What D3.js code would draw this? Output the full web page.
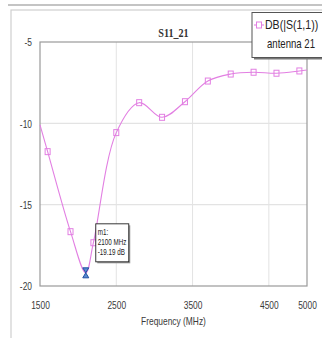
<!DOCTYPE html>
<html>
<head>
<meta charset="utf-8">
<script src="https://cdn.jsdelivr.net/npm/d3@7/dist/d3.min.js"></script>
<style>
  html, body { margin: 0; padding: 0; background: #fff; }
  svg { display: block; }
  text { font-family: "Liberation Sans", Arial, sans-serif; }
</style>
</head>
<body>
<svg id="chart" width="322" height="338"></svg>
<script>
// Return loss of antenna 21, sampled in MHz
const freqs = [1500, 1600, 1900, 2100, 2200, 2500, 2800, 3100, 3400, 3700, 4000, 4300, 4600, 4900, 5000];
const s11db = [-10.1, -11.74, -16.66, -19.19, -17.34, -10.57, -8.73, -9.63, -8.67, -7.40, -6.97, -6.86, -6.92, -6.78, -6.72];
// Frequencies that carry a square symbol on the trace
const symbolFreqs = [1600, 1900, 2200, 2500, 2800, 3100, 3400, 3700, 4000, 4300, 4600, 4900];
const xTicks = [1500, 2500, 3500, 4500, 5000];
const yTicks = [-5, -10, -15, -20];
const xGrid = [2500, 3500, 4500];
const yGrid = [-10, -15];
const marker = { name: "m1", freq: 2100, db: -19.19 };
const title = "S11_21";
const legendLines = ["DB(|S(1,1))", "antenna 21"];
const xLabel = "Frequency (MHz)";

const traceColor = "#e27fe2";
const svg = d3.select("#chart");

const plot = { left: 40, top: 42, right: 307, bottom: 286 };
const x = d3.scaleLinear().domain([1500, 5000]).range([plot.left, plot.right]);
const y = d3.scaleLinear().domain([-20, -5]).range([plot.bottom, plot.top]);

// outer frame of the graph window
svg.append("line").attr("x1", 8).attr("x2", 322).attr("y1", 5).attr("y2", 5)
  .attr("stroke", "#c4c4c4").attr("stroke-width", 2);
svg.append("rect").attr("x", 11).attr("y", 10).attr("width", 330).attr("height", 340)
  .attr("fill", "none").attr("stroke", "#cfcfcf").attr("stroke-width", 1.2);

// grid
svg.append("g").selectAll("line").data(xGrid).join("line")
  .attr("x1", d => x(d)).attr("x2", d => x(d))
  .attr("y1", plot.top).attr("y2", plot.bottom)
  .attr("stroke", "#e3e3e3").attr("stroke-width", 1);
svg.append("g").selectAll("line").data(yGrid).join("line")
  .attr("x1", plot.left).attr("x2", plot.right)
  .attr("y1", d => y(d)).attr("y2", d => y(d))
  .attr("stroke", "#e3e3e3").attr("stroke-width", 1.2);

// plot border
svg.append("rect")
  .attr("x", plot.left).attr("y", plot.top)
  .attr("width", plot.right - plot.left).attr("height", plot.bottom - plot.top)
  .attr("fill", "none").attr("stroke", "#9a9a9a").attr("stroke-width", 1.2);

// axes (tick text only, narrow face, plain hyphen for negatives)
const plain = d => String(d);
const xAxis = svg.append("g")
  .attr("transform", `translate(0,${plot.bottom})`)
  .call(d3.axisBottom(x).tickValues(xTicks).tickSize(0).tickPadding(0).tickFormat(plain));
xAxis.select(".domain").remove();
xAxis.selectAll("text")
  .attr("y", 23).attr("dy", 0)
  .attr("transform", "scale(0.8,1)")
  .attr("fill", "#3a3a3a").style("font-size", "10.5px").style("font-family", "'Liberation Sans', Arial, sans-serif");

const yAxis = svg.append("g")
  .attr("transform", `translate(${plot.left},0)`)
  .call(d3.axisLeft(y).tickValues(yTicks).tickSize(0).tickPadding(0).tickFormat(plain));
yAxis.select(".domain").remove();
yAxis.selectAll("text")
  .attr("x", -10).attr("dy", "0.35em")
  .attr("transform", "scale(0.8,1)")
  .attr("fill", "#3a3a3a").style("font-size", "10.5px").style("font-family", "'Liberation Sans', Arial, sans-serif");

// title
svg.append("text")
  .attr("transform", `translate(${(plot.left + plot.right) / 2},37) scale(0.75,1)`)
  .attr("text-anchor", "middle")
  .style("font-family", "'Liberation Serif', 'Times New Roman', serif")
  .style("font-weight", "bold").style("font-size", "13.5px")
  .attr("fill", "#333").text(title);

// x label
svg.append("text")
  .attr("transform", `translate(${(plot.left + plot.right) / 2},325) scale(0.8,1)`)
  .attr("text-anchor", "middle")
  .style("font-size", "10.5px").attr("fill", "#3a3a3a").text(xLabel);

// trace
const pts = freqs.map((f, i) => [f, s11db[i]]);
const line = d3.line().x(d => x(d[0])).y(d => y(d[1])).curve(d3.curveCatmullRom.alpha(0.5));
svg.append("path").datum(pts)
  .attr("d", line).attr("fill", "none")
  .attr("stroke", traceColor).attr("stroke-width", 1.1);

const symPts = pts.filter(p => symbolFreqs.includes(p[0]));
svg.append("g").selectAll("rect").data(symPts).join("rect")
  .attr("x", d => x(d[0]) - 2.5).attr("y", d => y(d[1]) - 3)
  .attr("width", 5).attr("height", 6)
  .attr("fill", "none").attr("stroke", traceColor).attr("stroke-width", 1);

// marker m1 (hourglass)
const mx = x(marker.freq), my = y(marker.db);
svg.append("path")
  .attr("d", `M${mx - 3},${my - 5}L${mx + 3},${my - 5}L${mx},${my}Z M${mx - 3},${my + 5}L${mx + 3},${my + 5}L${mx},${my}Z`)
  .attr("fill", "#5a8ad0").attr("stroke", "#1f4fa3").attr("stroke-width", 1);

// marker readout
const box = { x: mx + 10, y: my - 49, w: 33, h: 38 };
svg.append("rect").attr("x", box.x + 1.5).attr("y", box.y + 1.5)
  .attr("width", box.w).attr("height", box.h).attr("fill", "#9a9a9a");
svg.append("rect").attr("x", box.x).attr("y", box.y)
  .attr("width", box.w).attr("height", box.h)
  .attr("fill", "#fff").attr("stroke", "#222").attr("stroke-width", 0.9);
const readout = [`${marker.name}:`, `${marker.freq} MHz`, `${marker.db.toFixed(2)} dB`];
svg.append("g").selectAll("text").data(readout).join("text")
  .attr("transform", (d, i) => `translate(${box.x + 2},${box.y + 11 + i * 10}) scale(0.74,1)`)
  .style("font-size", "8.5px").attr("fill", "#222").text(d => d);

// legend
const lg = { x: 252, y: 12.5, w: 80, h: 45 };
svg.append("rect").attr("x", lg.x + 2).attr("y", lg.y + 2)
  .attr("width", lg.w).attr("height", lg.h).attr("fill", "#777");
svg.append("rect").attr("x", lg.x).attr("y", lg.y)
  .attr("width", lg.w).attr("height", lg.h)
  .attr("fill", "#fff").attr("stroke", "#555").attr("stroke-width", 1);
svg.append("line").attr("x1", lg.x + 2).attr("x2", lg.x + 12)
  .attr("y1", 25).attr("y2", 25).attr("stroke", traceColor).attr("stroke-width", 1.1);
svg.append("rect").attr("x", lg.x + 4.5).attr("y", 22).attr("width", 5).attr("height", 6)
  .attr("fill", "#fff").attr("stroke", traceColor).attr("stroke-width", 1);
svg.append("text").attr("transform", `translate(${lg.x + 13},29) scale(0.88,1)`)
  .style("font-size", "12px").attr("fill", "#222").text(legendLines[0]);
svg.append("text").attr("transform", `translate(${lg.x + 39},48) scale(0.8,1)`)
  .attr("text-anchor", "middle")
  .style("font-size", "12px").attr("fill", "#222").text(legendLines[1]);
</script>
</body>
</html>
